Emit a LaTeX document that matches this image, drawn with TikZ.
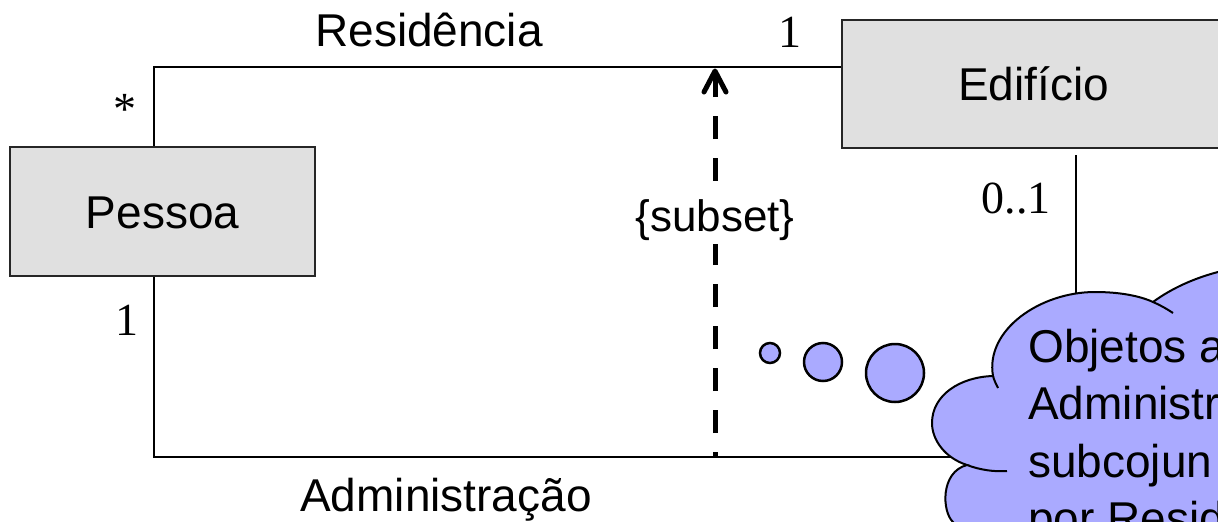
\documentclass[tikz,border=0pt]{standalone}
\usepackage{fontspec}
\setmainfont{Liberation Sans}
\newfontfamily\serifnum{Liberation Serif}
\definecolor{boxgray}{RGB}{224,224,224}
\definecolor{cloudblue}{RGB}{170,170,255}
\begin{document}
\begin{tikzpicture}[x=1pt,y=-1pt,
  classbox/.style={draw=black!85, line width=2pt, fill=boxgray, inner sep=0pt,
    text height=33pt, text depth=0pt, font=\fontsize{46}{55}\selectfont},
  assoc/.style={line width=1.5pt, draw=black},
  lbl/.style={font=\fontsize{46}{55}\selectfont, inner sep=0pt, anchor=base},
  mult/.style={font=\serifnum\fontsize{46}{55}\selectfont, inner sep=0pt, anchor=base},
  bubble/.style={draw=black, line width=2.5pt, fill=cloudblue},
  cloudline/.style={draw=black, line width=2pt},
  subsetarrow/.style={line width=5pt, dash pattern=on 23pt off 19pt, dash phase=18pt},
  arrowhead/.style={line width=5pt, line cap=round, line join=round},
]
\useasboundingbox (0,0) rectangle (1218,522);
\clip (0,0) rectangle (1218,522);
\fill[white] (0,0) rectangle (1218,522);

% classes
\node[classbox, minimum width=305pt, minimum height=129pt] (pessoa) at (162.5,211.5) {Pessoa};
\node[classbox, minimum width=383pt, minimum height=128pt] (edif) at (1033.5,84) {Edifício};

% associations
\coordinate (rescorner) at (154,67);
\coordinate (admcorner) at (154,457);
\coordinate (admend) at (1076,155);
\draw[assoc] (pessoa.north -| rescorner) -- (rescorner) -- (rescorner -| edif.west);
\draw[assoc] (pessoa.south -| admcorner) -- (admcorner) -- (admcorner -| admend) -- (admend);

% subset dependency
\coordinate (subsetfoot) at (715,457);
\coordinate (subsettip) at (715,71);
\draw[subsetarrow] (subsetfoot) -- (subsettip);
\draw[arrowhead] (subsettip) ++(-11,21) -- (subsettip) -- ++(11,21);
\node[lbl, fill=white, text height=50pt, text depth=13pt, inner xsep=3pt,
  font=\fontsize{44}{50}\selectfont] (subset) at (715,231) {\{subset\}};

% labels
\node[lbl] (reslbl) at (429,46) {Residência};
\node[lbl] (admlbl) at (446,511) {Administração};
\node[mult] (mpa) at (127,335) {1};
\node[mult] (mea) at (790,47) {1};
\node[mult] (meb) at (1016,213) {0..1};
\node[mult] (mpb) at (125,124) {*};

% thought bubbles
\node[bubble, circle, minimum size=20pt, inner sep=0pt] (b1) at (770,353) {};
\node[bubble, circle, minimum size=38pt, inner sep=0pt] (b2) at (823,362) {};
\node[bubble, circle, minimum size=58pt, inner sep=0pt] (b3) at (895,373) {};

% cloud
\filldraw[cloudline, fill=cloudblue] (951,545) -- (953,522)
  .. controls (942,512) and (940,472) .. (967,465)
  .. controls (945,458) and (932,440) .. (932,423)
  .. controls (932,395) and (960,377) .. (993,376)
  .. controls (985,330) and (1040,292) .. (1095,292)
  .. controls (1120,292) and (1140,296) .. (1153,302)
  .. controls (1172,288) and (1195,278) .. (1218,272)
  -- (1240,268) -- (1240,545) -- cycle;
\draw[cloudline] (967,465) .. controls (980,470) and (995,472) .. (1007,471);
\draw[cloudline] (993,376) .. controls (994,380) and (996,384) .. (998,388);
\draw[cloudline] (1153,302) .. controls (1160,305) and (1167,309) .. (1173,313);

\foreach \t [count=\i] in {Objetos a, Administr, subcojun, por Resid}
  \node[lbl, anchor=base west] (note\i) at (1028,{362+57.5*(\i-1)}) {\t};
\end{tikzpicture}
\end{document}
